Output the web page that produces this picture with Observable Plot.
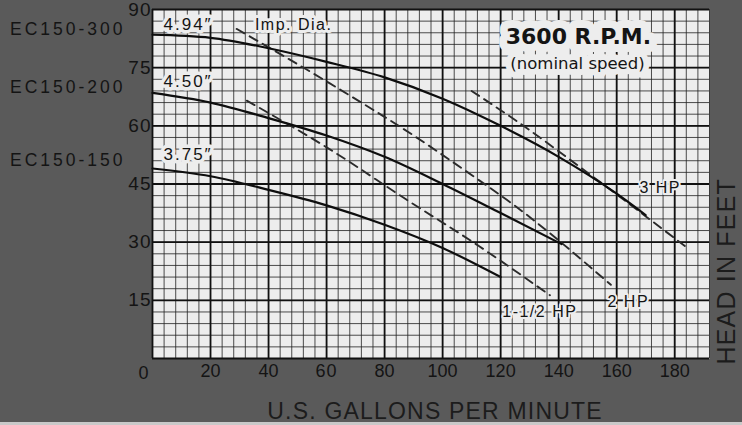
<!DOCTYPE html>
<html>
<head>
<meta charset="utf-8">
<script src="https://cdn.jsdelivr.net/npm/d3@7"></script>
<script src="https://cdn.jsdelivr.net/npm/@observablehq/plot@0.6"></script>
<style>
  html, body { margin: 0; padding: 0; background: #5a5a5a; overflow: hidden; }
  #chart { position: relative; width: 742px; height: 425px; }
  #strip { position: absolute; left: 0; top: 422px; width: 742px; height: 3px; background: #c9c9c9; }
</style>
</head>
<body>
<div id="chart"></div>
<script>
// ---- tick labels ----
const xTicks = [20, 40, 60, 80, 100, 120, 140, 160, 180];
const yTicks = [15, 30, 45, 60, 75, 90];

// ---- pump curves: [GPM, head ft] by impeller diameter ----
const curve494 = [[0,83.5],[20,82.7],[40,80],[60,76.5],[80,72.5],[100,67],[120,60],[140,52],[160,42.5],[170,37]];
const curve450 = [[0,68.5],[20,66],[40,62],[60,57.5],[80,52],[100,45],[120,37.5],[141,29.5]];
const curve375 = [[0,49],[20,47],[40,43.5],[60,39.5],[80,34.5],[100,28.5],[120,21]];

// ---- horsepower limit lines ----
const hp15 = [[32.5,66.5],[61,54],[87.5,41],[112.5,29],[137,16.3]];
const hp2  = [[29,85],[61,71],[90,57.5],[112.5,46],[122,41],[158,19]];
const hp3  = [[110,69],[125,61.5],[152.5,46.5],[183.5,29]];

// ---- text labels ----
const models   = ["EC150-300", "EC150-200", "EC150-150"];
const modelY   = [84.8, 69.8, 51.2];
const diaNames = ["4.94\u2033", "4.50\u2033", "3.75\u2033"];
const diaY     = [86, 71.5, 52.5];
const hpNames  = ["3 HP", "2 HP", "1-1/2 HP"];
const hpX      = [175, 164, 133.5];
const hpY      = [43.9, 14.5, 11.9];
const xTitle = "U.S. GALLONS PER MINUTE";
const yTitle = "HEAD IN FEET";

const xMinor = d3.range(0, 193, 4);
const yMinor = d3.range(0, 91, 3);
const xMajor = [0, ...xTicks];
const yMajor = [0, ...yTicks];

const modelData = models.map((t, i) => ({t, y: modelY[i]}));
const diaData = diaNames.map((t, i) => ({t, y: diaY[i]}));
const hpData = hpNames.map((t, i) => ({t, x: hpX[i], y: hpY[i]}));
const ink = "#141414";
const paper = "#ededed";

const chart = Plot.plot({
  width: 742,
  height: 425,
  marginLeft: 152,
  marginRight: 33,
  marginTop: 9,
  marginBottom: 67,
  x: {domain: [0, 192], axis: null},
  y: {domain: [0, 90], axis: null},
  style: {background: "#5a5a5a", fontFamily: "Liberation Sans, Arial, Helvetica, sans-serif", color: ink},
  marks: [
    Plot.frame({fill: paper, stroke: null}),
    Plot.ruleX(xMinor, {stroke: "#222", strokeWidth: 1, strokeOpacity: 0.8}),
    Plot.ruleY(yMinor, {stroke: "#222", strokeWidth: 1, strokeOpacity: 0.8}),
    Plot.ruleX(xMajor, {stroke: "#111", strokeWidth: 1.8}),
    Plot.ruleY(yMajor, {stroke: "#111", strokeWidth: 1.8}),
    // axes
    Plot.axisX(xTicks, {tickSize: 0, tickPadding: 6, fontSize: 18, fill: ink, label: null}),
    Plot.axisY(yTicks, {tickSize: 0, tickPadding: 1, fontSize: 19, fill: ink, label: null}),
    Plot.text(["0"], {x: 0, y: 0, text: d => d, dx: -9, dy: 15, fontSize: 18, fill: ink}),
    // HP lines
    Plot.line(hp15, {x: d => d[0], y: d => d[1], stroke: "#2b2b2b", strokeWidth: 1.9, strokeDasharray: "9,6", curve: "monotone-x"}),
    Plot.line(hp2,  {x: d => d[0], y: d => d[1], stroke: "#2b2b2b", strokeWidth: 1.9, strokeDasharray: "9,6", curve: "monotone-x"}),
    Plot.line(hp3,  {x: d => d[0], y: d => d[1], stroke: "#2b2b2b", strokeWidth: 1.9, strokeDasharray: "9,6", curve: "monotone-x"}),
    // pump curves
    Plot.line(curve494, {x: d => d[0], y: d => d[1], stroke: "#0e0e0e", strokeWidth: 2.2, curve: "monotone-x"}),
    Plot.line(curve450, {x: d => d[0], y: d => d[1], stroke: "#0e0e0e", strokeWidth: 2.2, curve: "monotone-x"}),
    Plot.line(curve375, {x: d => d[0], y: d => d[1], stroke: "#0e0e0e", strokeWidth: 2.2, curve: "monotone-x"}),
    // diameter labels
    Plot.text(diaData, {x: 0, y: "y", text: "t", dx: 11, textAnchor: "start", fontSize: 17, fill: ink,
      stroke: paper, strokeWidth: 7, strokeLinejoin: "round", paintOrder: "stroke"}),
    Plot.text(["Imp. Dia."], {x: 35.3, y: 86, text: d => d, textAnchor: "start", fontSize: 16, fill: ink,
      stroke: paper, strokeWidth: 6, strokeLinejoin: "round", paintOrder: "stroke"}),
    // RPM box
    Plot.text(["3600 R.P.M."], {x: 146.8, y: 83, text: d => d, fontSize: 22, fontWeight: "bold",
      fontFamily: "DejaVu Sans, sans-serif", fill: ink,
      stroke: paper, strokeWidth: 16, strokeLinejoin: "round", paintOrder: "stroke"}),
    Plot.text(["(nominal speed)"], {x: 146.5, y: 76.1, text: d => d, fontSize: 16.5,
      fontFamily: "DejaVu Sans, sans-serif", fill: ink,
      stroke: paper, strokeWidth: 12, strokeLinejoin: "round", paintOrder: "stroke"}),
    // HP labels
    Plot.text(hpData, {x: "x", y: "y", text: "t", fontSize: 16, fill: ink,
      stroke: paper, strokeWidth: 4, strokeLinejoin: "round", paintOrder: "stroke"}),
    // model labels (left)
    Plot.text(modelData, {x: 0, y: "y", text: "t", dx: -27, textAnchor: "end", fontSize: 17.5, fill: ink}),
    // axis titles
    Plot.text([xTitle], {x: 97.4, y: 0, text: d => d, dy: 53, fontSize: 23, fill: "#1c1c1c"}),
    Plot.text([yTitle], {x: 192, y: 22.5, text: d => d, dx: 17, rotate: -90, fontSize: 25, fill: "#1c1c1c"})
  ]
});

// letter spacing to match the tracked-out lettering of the original
const spacing = new Map([
  ...models.map(t => [t, "3px"]),
  ...diaNames.map(t => [t, "2px"]),
  ...hpNames.map(t => [t, "1.5px"]),
  ["Imp. Dia.", "1.5px"],
  [xTitle, "1.2px"],
  [yTitle, "1.2px"],
  ...yTicks.map(t => [String(t), "1px"])
]);
d3.select(chart).selectAll("text").each(function() {
  const s = spacing.get(this.textContent);
  if (s) this.style.letterSpacing = s;
});

const host = document.getElementById("chart");
host.appendChild(chart);
const strip = document.createElement("div");
strip.id = "strip";
host.appendChild(strip);
</script>
</body>
</html>
